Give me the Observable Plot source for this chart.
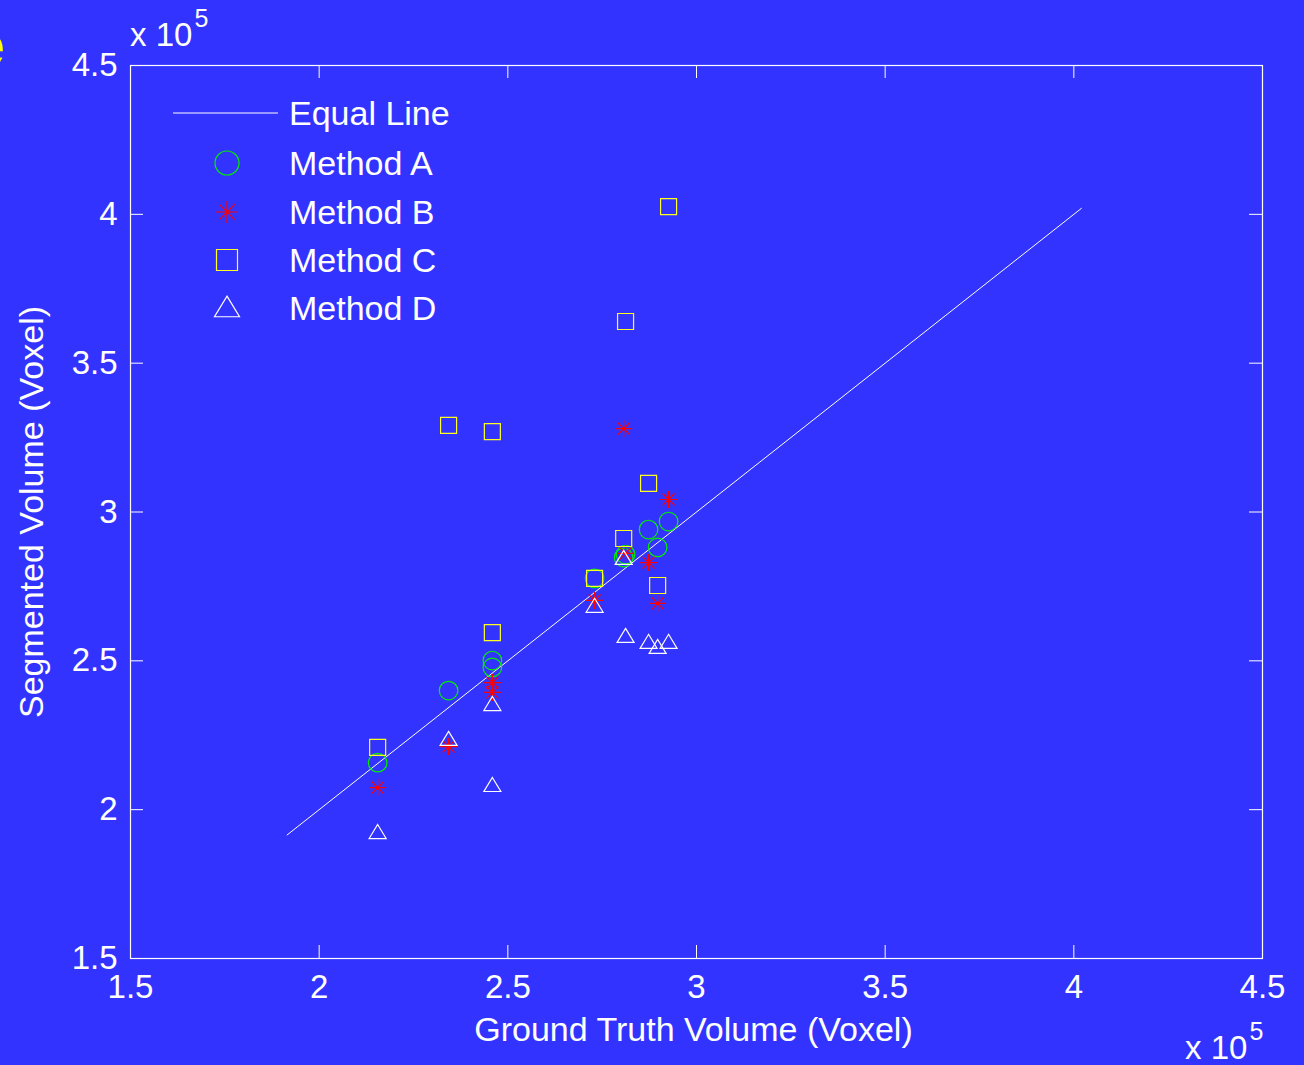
<!DOCTYPE html>
<html><head><meta charset="utf-8">
<script src="https://cdn.jsdelivr.net/npm/d3@7"></script>
<script src="https://cdn.jsdelivr.net/npm/@observablehq/plot@0.6"></script>
<style>html,body{margin:0;padding:0;background:#3333ff;overflow:hidden;}</style>
</head><body><div id="chart"></div>
<script>
// Values in units of 10^5 voxels
const groundTruth = [2.155, 2.343, 2.459, 2.459, 2.730, 2.807, 2.812, 2.873, 2.897, 2.926];
const methodA     = [2.158, 2.400, 2.501, 2.478, 2.777, 2.847, 2.857, 2.941, 2.881, 2.968];
const methodB     = [2.074, 2.212, 2.427, 2.394, 2.703, 3.280, 2.861, 2.830, 2.693, 3.042];
const methodC     = [2.209, 3.291, 3.270, 2.595, 2.777, 2.911, 3.640, 3.096, 2.753, 4.026];
const methodD     = [1.923, 2.236, 2.353, 2.081, 2.683, 2.844, 2.582, 2.562, 2.545, 2.562];
const equalLineEnds = [1.915, 4.02];
const xTicks = [1.5, 2, 2.5, 3, 3.5, 4, 4.5];
const yTicks = [1.5, 2, 2.5, 3, 3.5, 4, 4.5];
const seriesNames = ["Method A", "Method B", "Method C", "Method D"];
const lineName = "Equal Line";
const xLabel = "Ground Truth Volume (Voxel)";
const yLabel = "Segmented Volume (Voxel)";
const multiplier = ["x 10", "5"];
const panelLetter = "e";

const W = 1304, H = 1065, mL = 130, mR = 42, mT = 65, mB = 107;
const innerW = W - mL - mR, innerH = H - mT - mB;
const TICK = 13;
const FONT = "'Liberation Sans', Arial, Helvetica, sans-serif";
const FS = 34, TFS = 33;
const BG = "#3333ff";
const colors = ["#00ee00", "#ff0000", "#ffff22", "#ffffff"];

function shape(fn) { return {draw(ctx, size) { fn(ctx, Math.sqrt(size / Math.PI)); }}; }
const asterisk = shape((c, s) => { const d = s * 0.7;
  c.moveTo(-s, 0); c.lineTo(s, 0); c.moveTo(0, -s); c.lineTo(0, s);
  c.moveTo(-d, -d); c.lineTo(d, d); c.moveTo(-d, d); c.lineTo(d, -d); });
const square = shape((c, s) => { c.moveTo(-s, -s); c.lineTo(s, -s); c.lineTo(s, s); c.lineTo(-s, s); c.closePath(); });
const triangle = shape((c, s) => { c.moveTo(0, -s * 0.95); c.lineTo(s, s * 0.7); c.lineTo(-s, s * 0.7); c.closePath(); });
const symbols = ["circle", asterisk, square, triangle];
const radii = [9.3, 8.5, 8, 8.5];
const legendRadii = [12, 11, 10.5, 12.5];
const seriesValues = [methodA, methodB, methodC, methodD];

const pts = ys => groundTruth.map((x, i) => ({x, y: ys[i]}));
const fmt = d => String(d);

const chart = Plot.plot({
  width: W, height: H,
  marginLeft: mL, marginRight: mR, marginTop: mT, marginBottom: mB,
  style: {background: BG, color: "white", fontFamily: FONT, fontSize: FS + "px", overflow: "visible"},
  x: {domain: [1.5, 4.5]},
  y: {domain: [1.5, 4.5]},
  marks: [
    Plot.frame({stroke: "white", strokeWidth: 1.2}),
    // inward ticks on all four sides
    Plot.ruleX(xTicks, {x: d => d, stroke: "white", insetTop: innerH - TICK}),
    Plot.ruleX(xTicks, {x: d => d, stroke: "white", insetBottom: innerH - TICK}),
    Plot.ruleY(yTicks, {y: d => d, stroke: "white", insetRight: innerW - TICK}),
    Plot.ruleY(yTicks, {y: d => d, stroke: "white", insetLeft: innerW - TICK}),
    Plot.axisX({ticks: xTicks, tickFormat: fmt, tickSize: 0, tickPadding: 16, fontSize: TFS, label: null, stroke: "none"}),
    Plot.axisY({ticks: yTicks, tickFormat: fmt, tickSize: 0, tickPadding: 13, fontSize: TFS, label: null, stroke: "none"}),
    Plot.text([xLabel], {text: d => d, frameAnchor: "bottom", textAnchor: "middle", lineAnchor: "middle", dy: 72, dx: -3, fill: "white", fontSize: FS}),
    Plot.text([yLabel], {text: d => d, frameAnchor: "left", textAnchor: "middle", lineAnchor: "middle", dx: -98, rotate: -90, fill: "white", fontSize: FS}),
    Plot.line(equalLineEnds.map(v => ({x: v, y: v})), {x: "x", y: "y", stroke: "white", strokeWidth: 1}),
    ...seriesValues.map((ys, k) => Plot.dot(pts(ys), {x: "x", y: "y", r: radii[k], symbol: symbols[k], stroke: colors[k], fill: "none", strokeWidth: 1.2}))
  ]
});
document.getElementById("chart").appendChild(chart);

const svg = d3.select(chart);
// multiplier labels
function mult(x, y) {
  const t = svg.append("text").attr("x", x).attr("y", y).attr("fill", "white").attr("text-anchor", "start")
    .attr("font-family", FONT).attr("font-size", TFS);
  t.append("tspan").text(multiplier[0]);
  t.append("tspan").attr("dy", -19).attr("dx", 2).attr("font-size", 25).text(multiplier[1]);
}
mult(130, 46);
mult(1185, 1059);
// clipped panel letter
svg.append("text").attr("x", 5).attr("y", 66).attr("text-anchor", "end").attr("fill", "#ffff00")
  .attr("font-family", FONT).attr("font-weight", "bold").attr("font-size", 62).text(panelLetter);

// legend
const lg = svg.append("g").attr("font-family", FONT).attr("font-size", FS).attr("fill", "white").attr("text-anchor", "start");
const rowY = [113, 163, 212, 260, 308];
lg.append("line").attr("x1", 173).attr("x2", 278).attr("y1", rowY[0]).attr("y2", rowY[0]).attr("stroke", "white");
[lineName, ...seriesNames].forEach((name, i) => {
  lg.append("text").attr("x", 289).attr("y", rowY[i]).attr("dy", "0.35em").attr("text-anchor", "start").text(name);
});
seriesNames.forEach((name, k) => {
  const r = legendRadii[k];
  const sym = k === 0 ? d3.symbolCircle : symbols[k];
  lg.append("path").attr("transform", `translate(227,${rowY[k + 1]})`)
    .attr("d", d3.symbol(sym, r * r * Math.PI)())
    .attr("fill", "none").attr("stroke", colors[k]).attr("stroke-width", 1.2);
});
</script>
</body></html>
